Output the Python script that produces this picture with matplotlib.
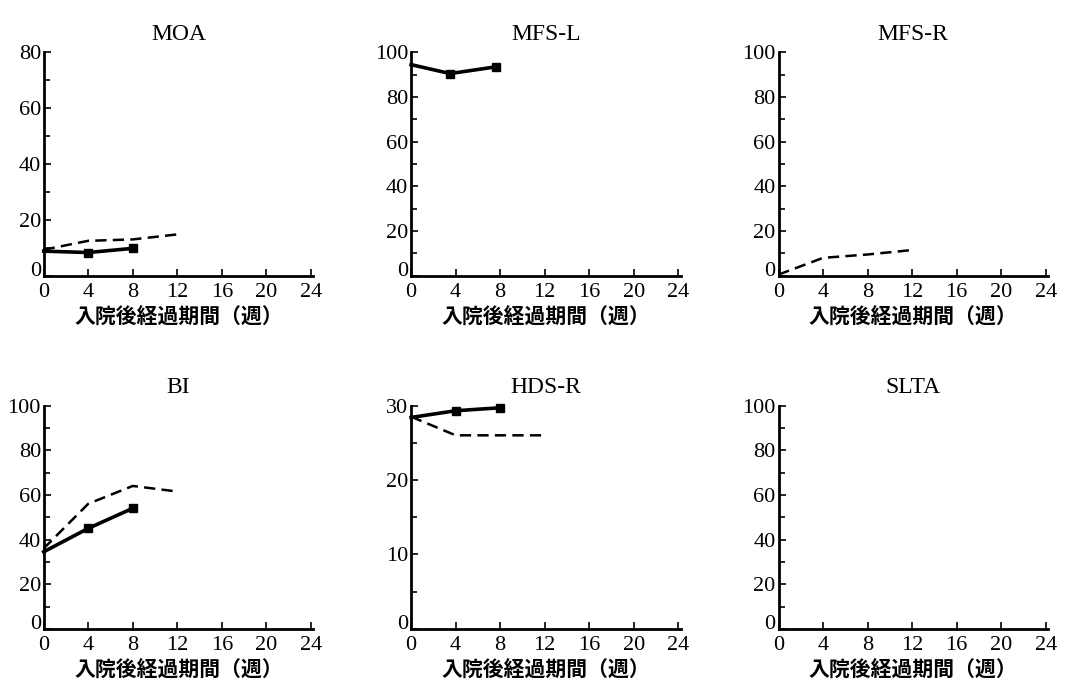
import matplotlib.pyplot as plt
import matplotlib.transforms as mtransforms
from matplotlib.ticker import MultipleLocator

plt.rcParams["font.family"] = ["Liberation Serif", "Noto Sans CJK JP"]

weeks_solid = [0, 4, 8]
weeks_dashed = [0, 4, 8, 12]

moa_solid = [8.8, 8.3, 9.8]
moa_dashed = [9.3, 12.5, 13.0, 14.8]

mfsl_weeks = [0, 3.5, 7.6]
mfsl_solid = [94.5, 90.5, 93.5]

mfsr_dashed = [0.5, 8.0, 9.5, 11.5]

bi_solid = [34.5, 45.0, 54.0]
bi_dashed = [36.0, 56.0, 64.0, 61.5]

hds_solid = [28.4, 29.3, 29.7]
hds_dashed = [28.5, 26.0, 26.0, 26.0]

x_ticks = [0, 4, 8, 12, 16, 20, 24]
xlabel = "入院後経過期間（週）"

# (title, y max, major step, minor step, solid x, solid y, dashed y)
panels = [
    ("MOA", 80, 20, 10, weeks_solid, moa_solid, moa_dashed),
    ("MFS-L", 100, 20, 10, mfsl_weeks, mfsl_solid, None),
    ("MFS-R", 100, 20, 10, None, None, mfsr_dashed),
    ("BI", 100, 20, 10, weeks_solid, bi_solid, bi_dashed),
    ("HDS-R", 30, 10, 5, weeks_solid, hds_solid, hds_dashed),
    ("SLTA", 100, 20, 10, None, None, None),
]

fig = plt.figure(figsize=(10.65, 6.98), dpi=100)
lefts = [0.041, 0.386, 0.731]
bottoms = [0.605, 0.099]
w, h = 0.253, 0.32

for i, (title, ymax, major, minor, sx, sy, dy) in enumerate(panels):
    ax = fig.add_axes([lefts[i % 3], bottoms[i // 3], w, h])
    if dy is not None:
        ax.plot(weeks_dashed, dy, color="black", lw=1.8,
                linestyle=(0, (4.5, 2.5)), clip_on=False, zorder=3)
    if sx is not None:
        ax.plot(sx, sy, color="black", lw=2.6, marker="s", markersize=6,
                markevery=[1, 2], clip_on=False, zorder=4)

    ax.set_xlim(0, 24.2)
    ax.set_ylim(0, ymax)
    ax.set_xticks(x_ticks)
    ax.yaxis.set_major_locator(MultipleLocator(major))
    ax.yaxis.set_minor_locator(MultipleLocator(minor))
    for side in ["top", "right"]:
        ax.spines[side].set_visible(False)
    for side in ["left", "bottom"]:
        ax.spines[side].set_linewidth(2)
    ax.tick_params(which="major", direction="in", length=5, width=1.2,
                   labelsize=16)
    ax.tick_params(which="minor", direction="in", length=4, width=1.2)
    ax.tick_params(axis="x", pad=5)
    ax.tick_params(axis="y", pad=2)
    ax.set_title(title, fontsize=17, pad=9)
    ax.set_xlabel(xlabel, fontsize=15, fontweight="bold", labelpad=5)

    # lift the y "0" a little so it clears the x "0" at the corner
    fig.canvas.draw()
    lift = mtransforms.ScaledTranslation(0, 5 / 72, fig.dpi_scale_trans)
    for lab in ax.get_yticklabels():
        if lab.get_text() == "0":
            lab.set_transform(lab.get_transform() + lift)

fig.savefig("out.png", dpi=100)
